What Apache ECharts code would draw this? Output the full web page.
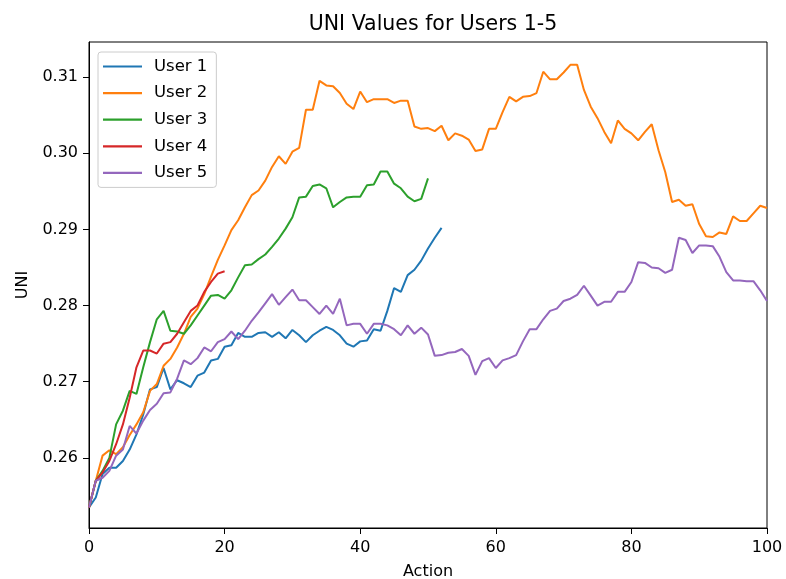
<!DOCTYPE html>
<html>
<head>
<meta charset="utf-8">
<title>UNI Values for Users 1-5</title>
<script src="https://cdn.jsdelivr.net/npm/echarts@6/dist/echarts.min.js"></script>
<style>
  html, body { margin: 0; padding: 0; background: #fff; }
  #chart { width: 786px; height: 579px; }
</style>
</head>
<body>
<div id="chart"></div>
<script>
// UNI per action
const user1 = [
  0.2535, 0.2548, 0.2579, 0.2587, 0.2587, 0.2596, 0.2611, 0.2631, 0.2657, 0.2690,
  0.2693, 0.2718, 0.2690, 0.2702, 0.2698, 0.2693, 0.2708, 0.2712, 0.2728, 0.2730,
  0.2746, 0.2748, 0.2764, 0.2759, 0.2759, 0.2764, 0.2765, 0.2759, 0.2765, 0.2757,
  0.2768, 0.2761, 0.2752, 0.2761, 0.2767, 0.2772, 0.2768, 0.2761, 0.2750, 0.2746,
  0.2753, 0.2754, 0.2769, 0.2767, 0.2793, 0.2823, 0.2818, 0.2840, 0.2847, 0.2859,
  0.2875, 0.2889, 0.2902
];
const user2 = [
  0.2535, 0.2570, 0.2603, 0.2610, 0.2605, 0.2614, 0.2630, 0.2644, 0.2660, 0.2688,
  0.2697, 0.2721, 0.2730, 0.2745, 0.2763, 0.2785, 0.2796, 0.2815, 0.2838, 0.2860,
  0.2879, 0.2899, 0.2912, 0.2929, 0.2945, 0.2951, 0.2964, 0.2982, 0.2996, 0.2986,
  0.3002, 0.3007, 0.3057, 0.3057, 0.3095, 0.3089, 0.3088, 0.3079, 0.3065, 0.3058,
  0.3081, 0.3067, 0.3071, 0.3071, 0.3071, 0.3066, 0.3069, 0.3069, 0.3035, 0.3032,
  0.3033, 0.3029, 0.3036, 0.3017, 0.3026, 0.3023, 0.3018, 0.3003, 0.3005, 0.3032,
  0.3032, 0.3054, 0.3074, 0.3068, 0.3074, 0.3075, 0.3079, 0.3107, 0.3097, 0.3097,
  0.3106, 0.3116, 0.3116, 0.3083, 0.3061, 0.3046, 0.3028, 0.3013, 0.3043, 0.3032,
  0.3026, 0.3017, 0.3028, 0.3038, 0.3004, 0.2975, 0.2936, 0.2939, 0.2931, 0.2933,
  0.2907, 0.2891, 0.2890, 0.2896, 0.2894, 0.2917, 0.2911, 0.2911, 0.2921, 0.2931,
  0.2928
];
const user3 = [
  0.2535, 0.2570, 0.2583, 0.2600, 0.2644, 0.2662, 0.2688, 0.2684, 0.2719, 0.2752,
  0.2782, 0.2793, 0.2767, 0.2766, 0.2763, 0.2774, 0.2787, 0.2800, 0.2813, 0.2814,
  0.2809, 0.2820, 0.2837, 0.2853, 0.2854, 0.2861, 0.2867, 0.2877, 0.2888, 0.2901,
  0.2916, 0.2942, 0.2943, 0.2957, 0.2959, 0.2954, 0.2929, 0.2936, 0.2942, 0.2943,
  0.2943, 0.2958, 0.2959, 0.2976, 0.2976, 0.2960, 0.2954, 0.2943, 0.2937, 0.2940,
  0.2967
];
const user4 = [
  0.2535, 0.2570, 0.2581, 0.2596, 0.2618, 0.2644, 0.2679, 0.2719, 0.2741, 0.2741,
  0.2737, 0.2750, 0.2752, 0.2763, 0.2778, 0.2793, 0.2800, 0.2818, 0.2831, 0.2842,
  0.2845
];
const user5 = [
  0.2535, 0.2570, 0.2574, 0.2583, 0.2603, 0.2611, 0.2642, 0.2632, 0.2649, 0.2663,
  0.2671, 0.2685, 0.2686, 0.2704, 0.2728, 0.2723, 0.2731, 0.2745, 0.2740, 0.2752,
  0.2756, 0.2766, 0.2756, 0.2767, 0.2780, 0.2791, 0.2803, 0.2815, 0.2801, 0.2811,
  0.2821, 0.2807, 0.2807, 0.2798, 0.2789, 0.2800, 0.2789, 0.2809, 0.2774, 0.2776,
  0.2776, 0.2763, 0.2776, 0.2776, 0.2774, 0.2769, 0.2761, 0.2774, 0.2763, 0.2771,
  0.2762, 0.2734, 0.2735, 0.2738, 0.2739, 0.2743, 0.2734, 0.2709, 0.2727, 0.2731,
  0.2718, 0.2728, 0.2731, 0.2735, 0.2753, 0.2769, 0.2769, 0.2782, 0.2793, 0.2796,
  0.2806, 0.2809, 0.2814, 0.2826, 0.2813, 0.2800, 0.2805, 0.2805, 0.2818, 0.2818,
  0.2831, 0.2857, 0.2856, 0.2850, 0.2849, 0.2843, 0.2847, 0.2889, 0.2886, 0.2869,
  0.2879, 0.2879, 0.2878, 0.2864, 0.2844, 0.2833, 0.2833, 0.2832, 0.2832, 0.2820,
  0.2806
];
const userNames = ["User 1", "User 2", "User 3", "User 4", "User 5"];
const colors = ["#1f77b4", "#ff7f0e", "#2ca02c", "#d62728", "#9467bd"];
const yTicks = [0.26, 0.27, 0.28, 0.29, 0.30, 0.31];

const fontFamily = "DejaVu Sans";
const allUsers = [user1, user2, user3, user4, user5];
const series = allUsers.map((vals, k) => ({
  name: userNames[k],
  type: "line",
  symbol: "none",
  data: vals.map((v, i) => [i, v]),
  lineStyle: { width: 2, color: colors[k] },
  itemStyle: { color: colors[k] },
  z: 2 + k,
}));

const chart = echarts.init(document.getElementById("chart"));
const option = {
  animation: false,
  backgroundColor: "#fff",
  title: {
    text: "UNI Values for Users 1-5",
    left: 428,
    textAlign: "center",
    top: 9,
    textStyle: { fontFamily, fontSize: 20.5, fontWeight: "normal", color: "#000" },
  },
  legend: {
    orient: "vertical",
    left: 98,
    top: 52,
    data: userNames,
    icon: "rect",
    itemWidth: 39,
    itemHeight: 2.2,
    itemGap: 9.6,
    padding: [6, 9, 6, 5],
    backgroundColor: "rgba(255,255,255,0.8)",
    borderColor: "#cccccc",
    borderWidth: 1,
    borderRadius: 3,
    textStyle: { fontFamily, fontSize: 16.5, color: "#000", padding: [0, 0, 0, 7] },
  },
  grid: {
    left: 89,
    right: 19,
    top: 42,
    bottom: 51,
    outerBoundsMode: "none",
    show: true,
    borderColor: "#000",
    borderWidth: 1,
  },
  xAxis: {
    type: "value",
    min: 0,
    max: 100,
    interval: 20,
    name: "Action",
    nameLocation: "middle",
    nameGap: 36,
    nameTextStyle: { fontFamily, fontSize: 16, color: "#000" },
    axisLine: { show: true, lineStyle: { color: "#000", width: 1 } },
    axisTick: { show: true, length: 6, lineStyle: { color: "#000" } },
    axisLabel: { fontFamily, fontSize: 16, color: "#000", margin: 12 },
    splitLine: { show: false },
  },
  yAxis: {
    type: "value",
    min: 0.2508,
    max: 0.3146,
    name: "UNI",
    nameLocation: "middle",
    nameRotate: 90,
    nameGap: 58,
    nameTextStyle: { fontFamily, fontSize: 16, color: "#000" },
    axisLine: { show: true, lineStyle: { color: "#000", width: 1 } },
    axisTick: { show: true, length: 6, customValues: yTicks, lineStyle: { color: "#000" } },
    axisLabel: {
      fontFamily,
      fontSize: 16,
      color: "#000",
      margin: 11,
      customValues: yTicks,
      formatter: (v) => v.toFixed(2),
    },
    splitLine: { show: false },
  },
  series: series,
};
chart.setOption(option);
</script>
</body>
</html>
